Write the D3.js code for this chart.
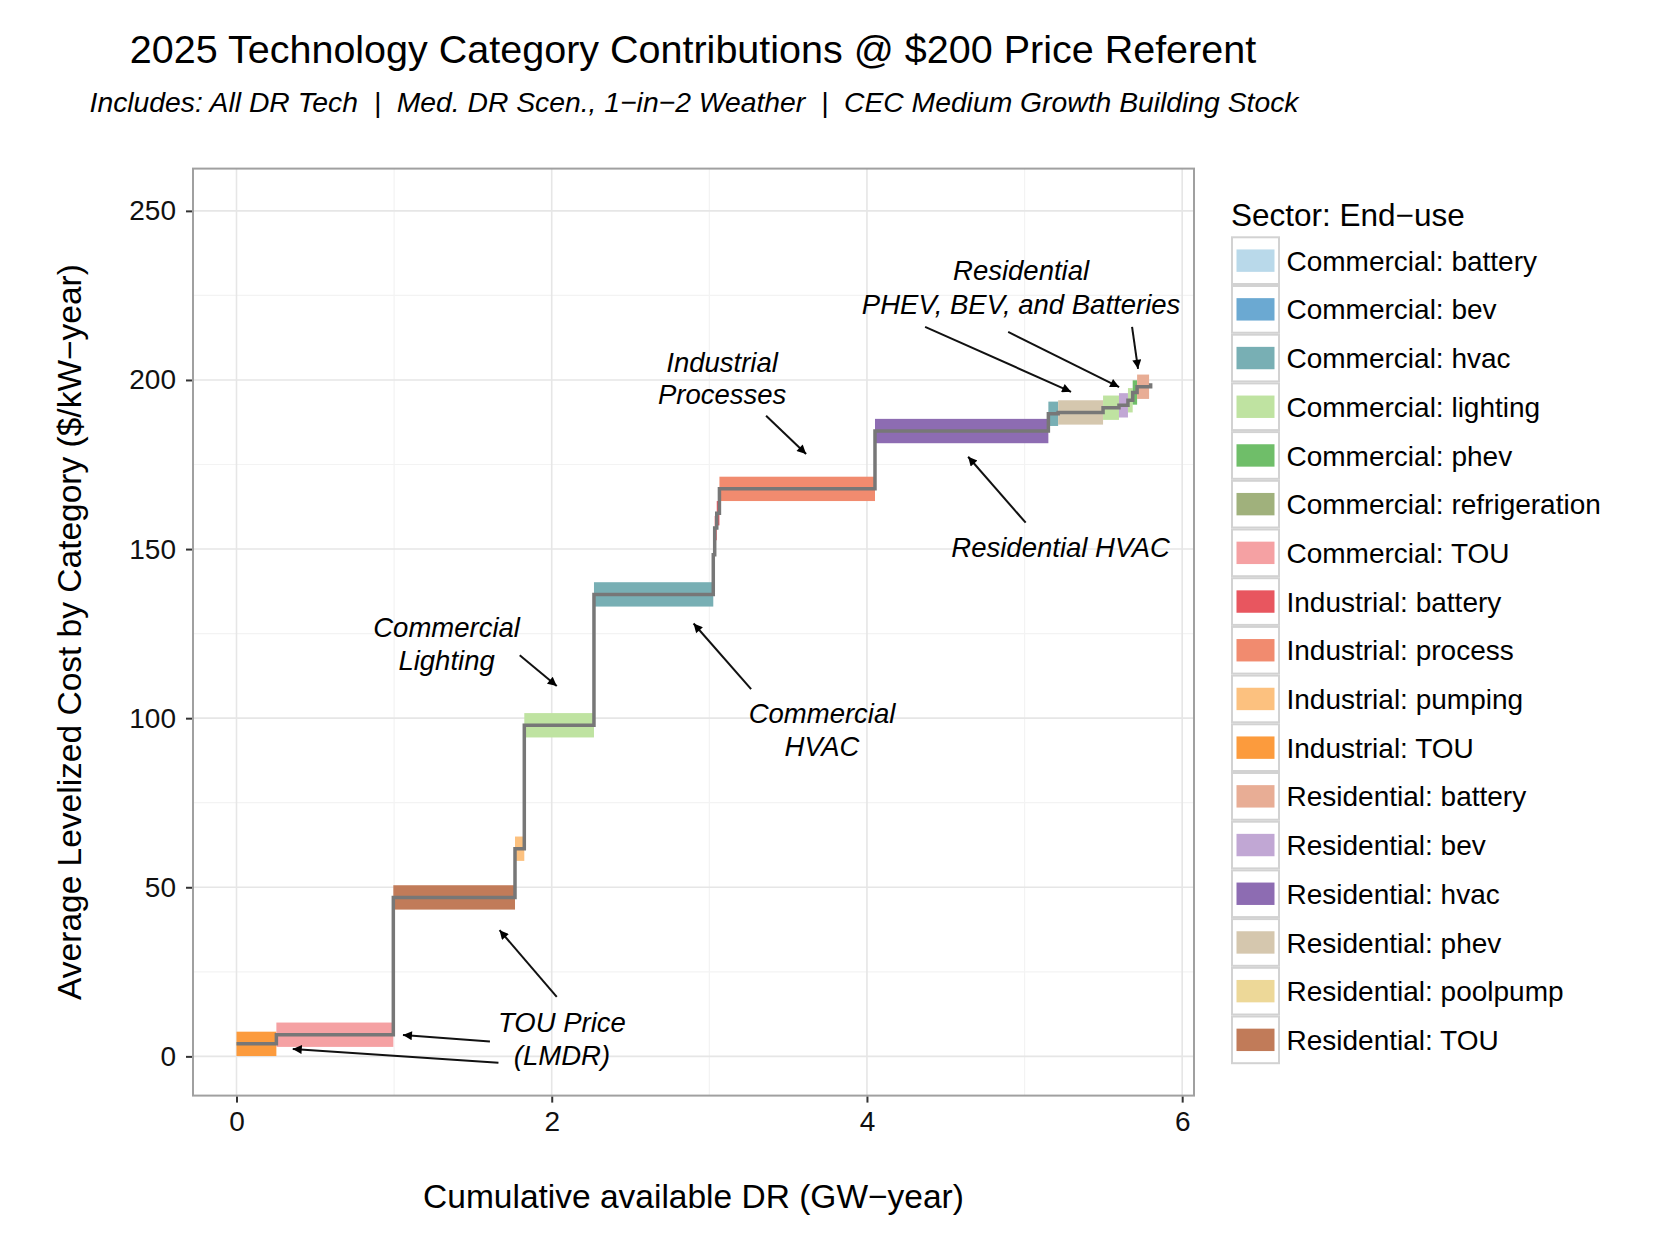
<!DOCTYPE html>
<html><head><meta charset="utf-8">
<script src="https://cdn.jsdelivr.net/npm/d3@7"></script>
<style>
html,body{margin:0;padding:0;background:#fff;}
svg{display:block;font-family:"Liberation Sans",Arial,Helvetica,sans-serif;}
</style></head>
<body><svg id="chart" width="1663" height="1259"></svg>
<script>
// ---- data ----
const legendCategories = [
  "Commercial: battery","Commercial: bev","Commercial: hvac","Commercial: lighting",
  "Commercial: phev","Commercial: refrigeration","Commercial: TOU","Industrial: battery",
  "Industrial: process","Industrial: pumping","Industrial: TOU","Residential: battery",
  "Residential: bev","Residential: hvac","Residential: phev","Residential: poolpump","Residential: TOU"
];
const legendColors = [
  "#b9d9ea","#6ba9d2","#78afb4","#bfe3a1","#6fbe69","#a0b17c","#f5a1a3","#e8565f",
  "#f18b6f","#fcc17f","#fc9b3d","#e8ad95","#c1a7d4","#8d6cb2","#d5c7ae","#edd898","#c17b59"
];
// step segments: start / end cumulative DR (GW-year), cost ($/kW-year), category
const segStart = [0.000,0.253,0.995,1.767,1.826,2.268,3.025,3.034,3.047,3.064,4.051,5.151,5.213,5.498,5.599,5.656,5.686,5.714];
const segEnd   = [0.253,0.995,1.767,1.826,2.268,3.025,3.034,3.047,3.064,4.051,5.151,5.213,5.498,5.599,5.656,5.686,5.714,5.790];
const segCost  = [3.7,6.4,47.0,61.4,97.9,136.6,148.3,156.2,160.6,167.8,184.9,190.0,190.4,191.8,192.5,194.0,196.3,198.0];
const segCategory = [
  "Industrial: TOU","Commercial: TOU","Residential: TOU","Industrial: pumping","Commercial: lighting",
  "Commercial: hvac","Industrial: battery","Industrial: battery","Industrial: battery","Industrial: process",
  "Residential: hvac","Commercial: hvac","Residential: phev","Commercial: lighting","Residential: bev",
  "Commercial: lighting","Commercial: phev","Residential: battery"
];
const bandHalf = 3.6;
const xTicks = [0,2,4,6];
const xMinor = [1,3,5];
const yTicks = [0,50,100,150,200,250];
const yMinor = [25,75,125,175,225];

// annotations (data coordinates)
const annoLines = [
  {lines:["Residential","PHEV, BEV, and Batteries"], x:4.978, y:[232.4,222.4]},
  {lines:["Industrial","Processes"], x:3.081, y:[205.3,195.7]},
  {lines:["Residential HVAC"], x:5.229, y:[150.6]},
  {lines:["Commercial","Lighting"], x:1.333, y:[127.0,117.2]},
  {lines:["Commercial","HVAC"], x:3.715, y:[101.6,91.6]},
  {lines:["TOU Price","(LMDR)"], x:2.065, y:[10.05,0.33]}
];
const arrowFrom = [[4.369,215.7],[4.896,214.2],[5.682,215.7],[3.36,189.4],[5.007,157.8],[1.797,118.6],[3.265,108.6],[2.032,17.6],[1.608,4.4],[1.662,-1.9]];
const arrowTo   = [[5.295,196.5],[5.600,197.9],[5.720,203.3],[3.614,178.1],[4.642,177.3],[2.032,109.5],[2.900,128.0],[1.669,37.3],[1.056,6.3],[0.357,2.2]];

// ---- layout ----
const svg = d3.select("#chart");
const P = {left:193, right:1194, top:168.6, bottom:1095.6};
const x = d3.scaleLinear().domain([-0.276, 6.075]).range([P.left, P.right]);
const y = d3.scaleLinear().domain([-11.6, 262.5]).range([P.bottom, P.top]);
const color = d3.scaleOrdinal().domain(legendCategories).range(legendColors);

// title
svg.append("text").attr("x",693).attr("y",62.5).attr("text-anchor","middle")
  .attr("font-size",39.5).attr("fill","#000").text("2025 Technology Category Contributions @ $200 Price Referent");
svg.append("text").attr("x",694).attr("y",111.5).attr("text-anchor","middle")
  .attr("font-size",28.3).attr("font-style","italic").attr("fill","#000")
  .attr("xml:space","preserve")
  .text("Includes: All DR Tech  |  Med. DR Scen., 1\u2212in\u22122 Weather  |  CEC Medium Growth Building Stock");

// grid
const g = svg.append("g");
g.append("rect").attr("x",P.left).attr("y",P.top).attr("width",P.right-P.left).attr("height",P.bottom-P.top).attr("fill","#fff");
g.selectAll(".xminor").data(xMinor).join("line").attr("x1",d=>x(d)).attr("x2",d=>x(d)).attr("y1",P.top).attr("y2",P.bottom).attr("stroke","#f3f3f3").attr("stroke-width",1.2);
g.selectAll(".yminor").data(yMinor).join("line").attr("y1",d=>y(d)).attr("y2",d=>y(d)).attr("x1",P.left).attr("x2",P.right).attr("stroke","#f3f3f3").attr("stroke-width",1.2);
g.selectAll(".xmajor").data(xTicks).join("line").attr("x1",d=>x(d)).attr("x2",d=>x(d)).attr("y1",P.top).attr("y2",P.bottom).attr("stroke","#e6e6e6").attr("stroke-width",1.6);
g.selectAll(".ymajor").data(yTicks).join("line").attr("y1",d=>y(d)).attr("y2",d=>y(d)).attr("x1",P.left).attr("x2",P.right).attr("stroke","#e6e6e6").attr("stroke-width",1.6);

// bands
const segs = segStart.map((s,i)=>({x0:s,x1:segEnd[i],c:segCost[i],cat:segCategory[i]}));
g.selectAll(".band").data(segs).join("rect")
  .attr("x",d=>x(d.x0)).attr("width",d=>Math.max(1,x(d.x1)-x(d.x0)))
  .attr("y",d=>y(d.c+bandHalf)).attr("height",d=>y(d.c-bandHalf)-y(d.c+bandHalf))
  .attr("fill",d=>color(d.cat));

// step line
const pts = segs.map(d=>[d.x0,d.c]);
pts.push([5.80, 199.0]);
const line = d3.line().x(d=>x(d[0])).y(d=>y(d[1])).curve(d3.curveStepAfter);
g.append("path").attr("d",line(pts)).attr("fill","none").attr("stroke","#777").attr("stroke-width",3.5).attr("stroke-linejoin","miter");

// panel border
g.append("rect").attr("x",P.left).attr("y",P.top).attr("width",P.right-P.left).attr("height",P.bottom-P.top).attr("fill","none").attr("stroke","#a0a0a0").attr("stroke-width",2);

// axes
const xAxis = d3.axisBottom(x).tickValues(xTicks).tickSize(6).tickPadding(9).tickFormat(d3.format("d"));
const yAxis = d3.axisLeft(y).tickValues(yTicks).tickSize(6).tickPadding(10).tickFormat(d3.format("d"));
const gx = svg.append("g").attr("transform",`translate(0,${P.bottom+1})`).call(xAxis);
const gy = svg.append("g").attr("transform",`translate(${P.left-1},0)`).call(yAxis);
[gx,gy].forEach(a=>{
  a.select(".domain").remove();
  a.selectAll(".tick line").attr("stroke","#333").attr("stroke-width",2);
  a.selectAll(".tick text").attr("font-size",28).attr("fill","#111").attr("font-family","Liberation Sans, Arial, sans-serif");
});

// axis titles
svg.append("text").attr("x",693.5).attr("y",1208).attr("text-anchor","middle").attr("font-size",33.5).attr("fill","#000")
  .text("Cumulative available DR (GW\u2212year)");
svg.append("text").attr("transform","translate(81,632) rotate(-90)").attr("text-anchor","middle").attr("font-size",33.5).attr("fill","#000")
  .text("Average Levelized Cost by Category ($/kW\u2212year)");

// annotations
const defs = svg.append("defs");
defs.append("marker").attr("id","ah").attr("viewBox","0 0 10 10").attr("refX",10).attr("refY",5)
  .attr("markerWidth",14).attr("markerHeight",9).attr("markerUnits","userSpaceOnUse").attr("orient","auto")
  .append("path").attr("d","M0,0 L10,5 L0,10 Z").attr("fill","#000");
const ag = svg.append("g");
arrowFrom.forEach((f,i)=>{
  const t = arrowTo[i];
  ag.append("line").attr("x1",x(f[0])).attr("y1",y(f[1])).attr("x2",x(t[0])).attr("y2",y(t[1]))
    .attr("stroke","#111").attr("stroke-width",2).attr("marker-end","url(#ah)");
});
annoLines.forEach(a=>{
  a.lines.forEach((ln,j)=>{
    ag.append("text").attr("x",x(a.x)).attr("y",y(a.y[j])).attr("dy","0.36em").attr("text-anchor","middle")
      .attr("font-size",27.5).attr("font-style","italic").attr("fill","#000").text(ln);
  });
});

// legend
const L = {x:1231, top:236.3, pitch:48.7, w:49};
svg.append("text").attr("x",L.x).attr("y",226).attr("font-size",31.5).attr("fill","#000").text("Sector: End\u2212use");
const lg = svg.append("g");
legendCategories.forEach((c,i)=>{
  const ty = L.top + i*L.pitch;
  lg.append("rect").attr("x",L.x+1).attr("y",ty+1).attr("width",L.w-2).attr("height",L.pitch-2)
    .attr("fill","#fff").attr("stroke","#d2d2d2").attr("stroke-width",2);
  lg.append("rect").attr("x",L.x+5.5).attr("y",ty+L.pitch/2-11.2).attr("width",L.w-11).attr("height",22.4)
    .attr("fill",color(c));
  lg.append("text").attr("x",1286.5).attr("y",ty+L.pitch/2).attr("dy","0.36em").attr("font-size",28).attr("fill","#000").text(c);
});
</script></body></html>
